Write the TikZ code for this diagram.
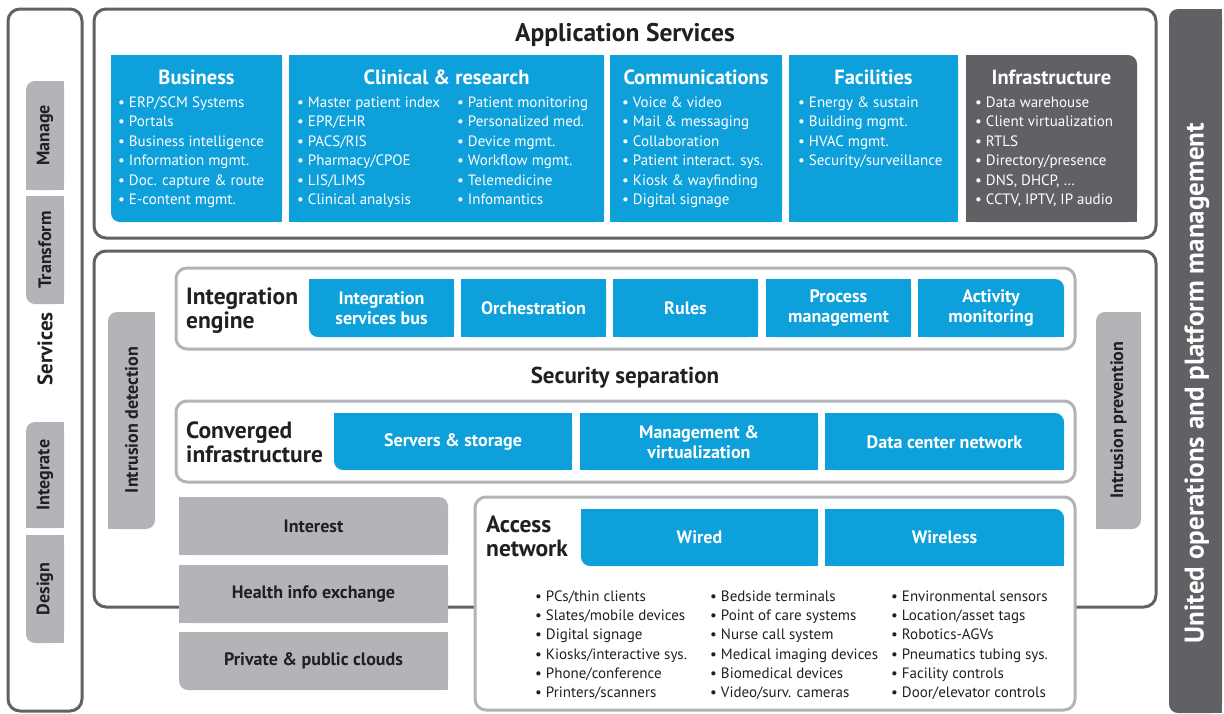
\documentclass[tikz,border=0pt]{standalone}
\usepackage{fontspec}
\setmainfont{PT Sans}
\definecolor{hpblue}{RGB}{14,160,219}
\definecolor{dgray}{RGB}{96,97,100}
\definecolor{lgray}{RGB}{178,180,183}
\definecolor{ink}{RGB}{35,31,32}
% color x1 y1 x2 y2 tl tr br bl  (1 = rounded corner)
\newcommand\rbox[9]{%
  \fill[#1,rounded corners=9] (#2,#3) rectangle (#4,#5);
  \ifnum#6=0 \fill[#1] (#2,#3) rectangle ++(10,10);\fi
  \ifnum#7=0 \fill[#1] (#4,#3) rectangle ++(-10,10);\fi
  \ifnum#8=0 \fill[#1] (#4,#5) rectangle ++(-10,-10);\fi
  \ifnum#9=0 \fill[#1] (#2,#5) rectangle ++(10,-10);\fi
}
\tikzset{
  frame/.style={draw=dgray,line width=3,rounded corners=12,fill=white},
  inframe/.style={draw=lgray,line width=3,rounded corners=11,fill=white},
  item/.style={anchor=base west,inner sep=0,font=\fontsize{15}{18}\selectfont,text=white},
  ditem/.style={item,text=ink},
  head/.style={anchor=base,inner sep=0,font=\bfseries\fontsize{20.5}{24}\selectfont,text=white},
  boxtxt/.style={inner sep=0,align=center,font=\bfseries\fontsize{18}{20}\selectfont,text=white},
  graytxt/.style={boxtxt,text=ink},
  label/.style={anchor=base west,inner sep=0,font=\bfseries\fontsize{23.5}{24}\selectfont,text=ink},
  tab/.style={inner sep=0,rotate=90,font=\bfseries\fontsize{18}{20}\selectfont,text=ink},
}
\begin{document}
\begin{tikzpicture}[x=1pt,y=-1pt]
\useasboundingbox (0,0) rectangle (1224,713);
% left column
\draw[frame] (8,9) rectangle (82,711);
\rbox{lgray}{26}{81}{64}{190}{1}{0}{0}{0}
\rbox{lgray}{26}{196}{64}{304}{0}{0}{0}{1}
\rbox{lgray}{26}{422}{64}{528}{1}{0}{0}{0}
\rbox{lgray}{26}{535}{64}{643}{0}{0}{0}{1}
\node[tab] (manage) at (45,135.5) {Manage};
\node[tab] (transform) at (45,250) {Transform};
\node[tab,font=\bfseries\fontsize{21}{24}\selectfont] (services) at (45,349) {Services};
\node[tab] (integrate) at (45,475) {Integrate};
\node[tab] (design) at (45,589) {Design};
% right bar
\rbox{dgray}{1169}{9}{1222}{713}{1}{0}{0}{1}
\node[tab,text=white,font=\bfseries\fontsize{27}{28}\selectfont] (united) at (1197,383) {United operations and platform management};
% application services
\draw[frame] (94,9) rectangle (1156,238);
\node[anchor=base,inner sep=0,font=\bfseries\fontsize{25.5}{28}\selectfont,text=ink] (apptitle) at (625,41) {Application Services};
\rbox{hpblue}{111}{55}{282}{222}{0}{0}{0}{1}
\rbox{hpblue}{289}{55}{604}{222}{0}{0}{0}{0}
\rbox{hpblue}{610}{55}{782}{222}{0}{0}{0}{0}
\rbox{hpblue}{789}{55}{958}{222}{0}{0}{0}{0}
\rbox{dgray}{966}{55}{1137}{222}{0}{1}{0}{0}
\node[head] (hbus) at (196.5,84.5) {Business};
\node[head] (hclin) at (446.5,84.5) {Clinical \& research};
\node[head] (hcom) at (696,84.5) {Communications};
\node[head] (hfac) at (873.5,84.5) {Facilities};
\node[head] (hinf) at (1051.5,84.5) {Infrastructure};
\foreach \t [count=\i] in {ERP/SCM Systems,Portals,Business intelligence,Information mgmt.,Doc. capture \& route,E-content mgmt.}
  \node[item] (bus\i) at (118,{107.5+(\i-1)*19.4}) {• \t};
\foreach \t [count=\i] in {Master patient index,EPR/EHR,PACS/RIS,Pharmacy/CPOE,LIS/LIMS,Clinical analysis}
  \node[item] (cla\i) at (297,{107.5+(\i-1)*19.4}) {• \t};
\foreach \t [count=\i] in {Patient monitoring,Personalized med.,Device mgmt.,Workflow mgmt.,Telemedicine,Infomantics}
  \node[item] (clb\i) at (457,{107.5+(\i-1)*19.4}) {• \t};
\foreach \t [count=\i] in {Voice \& video,Mail \& messaging,Collaboration,Patient interact. sys.,Kiosk \& wayfinding,Digital signage}
  \node[item] (com\i) at (622,{107.5+(\i-1)*19.4}) {• \t};
\foreach \t [count=\i] in {Energy \& sustain,Building mgmt.,HVAC mgmt.,Security/surveillance}
  \node[item] (fac\i) at (798,{107.5+(\i-1)*19.4}) {• \t};
\foreach \t [count=\i] in {Data warehouse,Client virtualization,RTLS,Directory/presence,{DNS, DHCP, …},{CCTV, IPTV, IP audio}}
  \node[item] (inf\i) at (975,{107.5+(\i-1)*19.4}) {• \t};
% services frame
\draw[frame] (94,251) rectangle (1156,607);
\rbox{lgray}{108}{312}{155}{529}{1}{0}{1}{0}
\node[tab] (intdet) at (131.5,420) {Intrusion detection};
\rbox{lgray}{1096}{312}{1141}{529}{1}{0}{1}{0}
\node[tab] (intprev) at (1118.5,420) {Intrusion prevention};
% integration engine
\draw[inframe] (176,268) rectangle (1075,349);
\node[label] (ie1) at (186,304) {Integration};
\node[label] (ie2) at (186,328.5) {engine};
\rbox{hpblue}{309}{279}{454}{337}{0}{0}{0}{1}
\rbox{hpblue}{461}{279}{606}{337}{0}{0}{0}{0}
\rbox{hpblue}{613}{279}{758}{337}{0}{0}{0}{0}
\rbox{hpblue}{766}{279}{911}{337}{0}{0}{0}{0}
\rbox{hpblue}{918}{279}{1064}{337}{0}{1}{0}{0}
\node[boxtxt] (isb) at (381.5,308) {Integration\\services bus};
\node[boxtxt] (orch) at (533.5,308) {Orchestration};
\node[boxtxt] (rules) at (685.5,308) {Rules};
\node[boxtxt] (procm) at (838.5,308) {Process\\management};
\node[boxtxt] (actm) at (991,308) {Activity\\monitoring};
\node[anchor=base,inner sep=0,font=\bfseries\fontsize{23}{26}\selectfont,text=ink] (secsep) at (625,383) {Security separation};
% converged infrastructure
\draw[inframe] (176,401) rectangle (1075,482);
\node[label] (ci1) at (186,438) {Converged};
\node[label] (ci2) at (186,462) {infrastructure};
\rbox{hpblue}{334}{413}{572}{470}{0}{0}{0}{1}
\rbox{hpblue}{580}{413}{818}{470}{0}{0}{0}{0}
\rbox{hpblue}{825}{413}{1064}{470}{0}{1}{0}{0}
\node[boxtxt] (servst) at (453,442) {Servers \& storage};
\node[boxtxt] (mgmtv) at (699,442) {Management \&\\virtualization};
\node[boxtxt] (dcn) at (944.5,442) {Data center network};
% gray boxes
\rbox{lgray}{179}{497}{448}{555}{0}{1}{0}{0}
\rbox{lgray}{179}{565}{448}{623}{0}{0}{0}{0}
\rbox{lgray}{179}{632}{448}{690}{0}{0}{0}{1}
\node[graytxt] (interest) at (313.5,526) {Interest};
\node[graytxt] (hie) at (313.5,594) {Health info exchange};
\node[graytxt] (clouds) at (313.5,661) {Private \& public clouds};
% access network
\draw[inframe] (475,497) rectangle (1075,710);
\node[label] (an1) at (486,532.5) {Access};
\node[label] (an2) at (486,556.5) {network};
\rbox{hpblue}{581}{509}{818}{566}{0}{0}{0}{1}
\rbox{hpblue}{825}{509}{1064}{566}{0}{1}{0}{0}
\node[boxtxt] (wired) at (699.5,537) {Wired};
\node[boxtxt] (wireless) at (944.5,537) {Wireless};
\foreach \t [count=\i] in {PCs/thin clients,Slates/mobile devices,Digital signage,Kiosks/interactive sys.,Phone/conference,Printers/scanners}
  \node[ditem] (ana\i) at (535,{601.5+(\i-1)*19.2}) {• \t};
\foreach \t [count=\i] in {Bedside terminals,Point of care systems,Nurse call system,Medical imaging devices,Biomedical devices,Video/surv. cameras}
  \node[ditem] (anb\i) at (710,{601.5+(\i-1)*19.2}) {• \t};
\foreach \t [count=\i] in {Environmental sensors,Location/asset tags,Robotics-AGVs,Pneumatics tubing sys.,Facility controls,Door/elevator controls}
  \node[ditem] (anc\i) at (891,{601.5+(\i-1)*19.2}) {• \t};
\end{tikzpicture}
\end{document}
